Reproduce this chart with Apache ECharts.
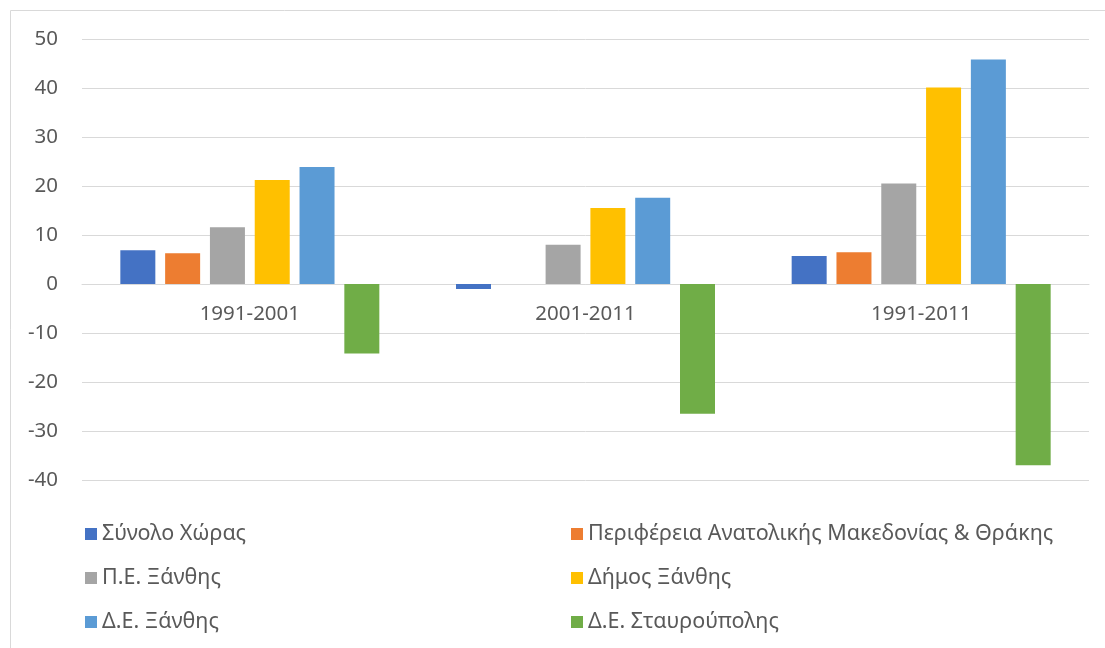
<!DOCTYPE html>
<html>
<head>
<meta charset="utf-8">
<script src="https://cdn.jsdelivr.net/npm/echarts@6/dist/echarts.min.js"></script>
<style>
    html, body { margin: 0; padding: 0; background: #fff; }
    #chart { width: 1105px; height: 648px; }
</style>
</head>
<body>
<div id="chart"></div>
<script>
// periods on the x axis
var periods = ["1991-2001", "2001-2011", "1991-2011"];

// % change per area
var synoloXoras = [6.9, -1.0, 5.7];
var perifereia = [6.3, 0, 6.5];
var peXanthis = [11.6, 8.0, 20.5];
var dimosXanthis = [21.2, 15.5, 40.1];
var deXanthis = [23.9, 17.6, 45.8];
var deStavroupolis = [-14.2, -26.5, -37.0];

var yTicks = { min: -40, max: 50, step: 10 };

var seriesNames = [
    "Σύνολο Χώρας",
    "Περιφέρεια Ανατολικής Μακεδονίας & Θράκης",
    "Π.Ε. Ξάνθης",
    "Δήμος Ξάνθης",
    "Δ.Ε. Ξάνθης",
    "Δ.Ε. Σταυρούπολης"
];
var seriesData = [synoloXoras, perifereia, peXanthis, dimosXanthis, deXanthis, deStavroupolis];
var colors = ["#4472c4", "#ed7d31", "#a5a5a5", "#ffc000", "#5b9bd5", "#70ad47"];

var font = "'Noto Sans', sans-serif";
var textColor = "#595959";

var myChart = echarts.init(document.getElementById("chart"));

var legendText = { color: textColor, fontSize: 21.5, lineHeight: 22, fontFamily: font };

// the category axis sits on the zero line (grid is 441px for 90 units)
var gridTop = 39, gridBottom = 168, plotH = 648 - gridTop - gridBottom;
var zeroOffset = -plotH * (0 - yTicks.min) / (yTicks.max - yTicks.min);

var option = {
    animation: false,
    color: colors,
    graphic: [
        {
            type: "rect",
            shape: { x: 10.5, y: 10.5, width: 1110, height: 660 },
            style: { fill: "none", stroke: "#d9d9d9", lineWidth: 1 }
        }
    ],
    grid: {
        left: 82,
        right: 16,
        top: gridTop,
        bottom: gridBottom
    },
    legend: [
        {
            left: 80,
            top: 518,
            orient: "vertical",
            itemGap: 22,
            itemWidth: 12,
            itemHeight: 12,
            icon: "rect",
            textStyle: legendText,
            data: [seriesNames[0], seriesNames[2], seriesNames[4]]
        },
        {
            left: 566,
            top: 518,
            orient: "vertical",
            itemGap: 22,
            itemWidth: 12,
            itemHeight: 12,
            icon: "rect",
            textStyle: legendText,
            data: [seriesNames[1], seriesNames[3], seriesNames[5]]
        }
    ],
    xAxis: {
        type: "category",
        data: periods,
        offset: zeroOffset,
        axisLine: { onZero: false, lineStyle: { color: "#d9d9d9", width: 1 } },
        axisTick: { show: false },
        axisLabel: {
            color: textColor,
            fontSize: 20.5,
            fontFamily: font,
            margin: 20
        }
    },
    yAxis: {
        type: "value",
        min: yTicks.min,
        max: yTicks.max,
        interval: yTicks.step,
        axisLine: { show: false },
        axisTick: { show: false },
        axisLabel: {
            color: textColor,
            fontSize: 20.5,
            fontFamily: font,
            margin: 24
        },
        splitLine: { lineStyle: { color: "#d9d9d9", width: 1 } }
    },
    series: seriesNames.map(function(name, i) {
        return {
            name: name,
            type: "bar",
            barWidth: 35,
            barGap: "28%",
            data: seriesData[i]
        };
    })
};

myChart.setOption(option);
</script>
</body>
</html>
